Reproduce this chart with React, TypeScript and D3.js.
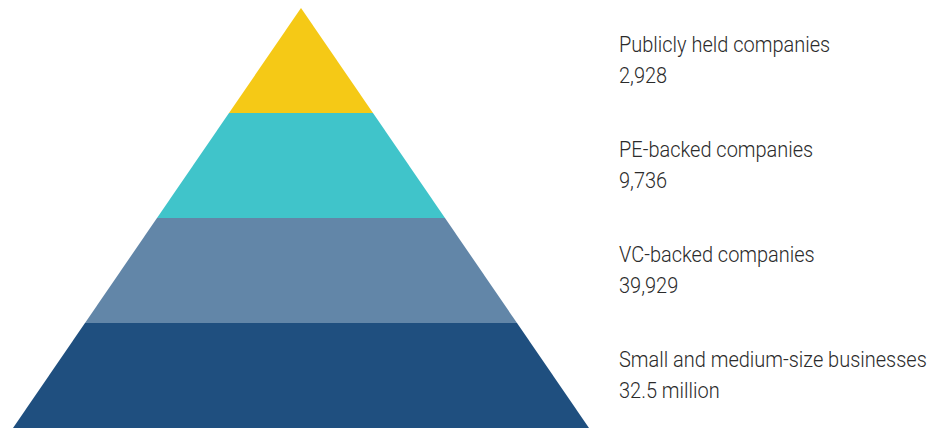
import { useEffect, useRef } from 'react';
import * as d3 from 'd3';

// top to bottom
const tiers = ['Publicly held companies', 'PE-backed companies', 'VC-backed companies', 'Small and medium-size businesses'];
const counts = ['2,928', '9,736', '39,929', '32.5 million'];
const colors = ['#F5C916', '#40C4CA', '#6286A8', '#1F4F7F'];

const W = 944;
const H = 428;

const App = () => {
  const ref = useRef<SVGSVGElement>(null);

  useEffect(() => {
    if (!ref.current) return;
    const svg = d3.select(ref.current);
    svg.selectAll('*').remove();

    const apexX = 301;
    const top = 8;
    const bottom = 428;
    const baseHalf = 288;
    const textX = 619;
    const longest = 308; // width of the longest label in the reference

    // vertical position of each tier boundary
    const y = d3.scaleLinear().domain([0, tiers.length]).range([top, bottom]);
    // half width of the pyramid at a given y
    const half = d3.scaleLinear().domain([top, bottom]).range([0, baseHalf]);

    const line = d3.line<[number, number]>();

    svg.selectAll('path.tier')
      .data(tiers)
      .enter()
      .append('path')
      .attr('class', 'tier')
      .attr('fill', (_, i) => colors[i])
      .attr('d', (_, i) => {
        const y0 = y(i);
        const y1 = y(i + 1);
        const pts: [number, number][] = [
          [apexX - half(y0), y0],
          [apexX + half(y0), y0],
          [apexX + half(y1), y1],
          [apexX - half(y1), y1],
        ];
        return line(pts) + 'Z';
      });

    // labels, condensed horizontally to mimic the narrow face
    const labels = svg.append('g')
      .attr('font-family', 'Roboto, "Noto Sans", sans-serif')
      .attr('font-weight', 300)
      .attr('font-size', '22px')
      .attr('fill', '#2b2b2b');

    const inner = labels.append('g');
    tiers.forEach((t, i) => {
      const mid = (y(i) + y(i + 1)) / 2;
      inner.append('text').attr('class', 'lab').attr('x', 0).attr('y', mid - 8).text(t);
      inner.append('text').attr('x', 0).attr('y', mid + 23).text(counts[i]);
    });

    let maxW = 0;
    inner.selectAll<SVGTextElement, unknown>('text.lab').each(function () {
      maxW = Math.max(maxW, this.getComputedTextLength());
    });
    const sx = maxW > 0 ? longest / maxW : 1;
    inner.attr('transform', `translate(${textX},0) scale(${sx},1)`);
  }, []);

  return (
    <svg ref={ref} width={W} height={H}
      style={{ position: 'absolute', left: 0, top: 0, background: '#fff' }} />
  );
};

export default App;
